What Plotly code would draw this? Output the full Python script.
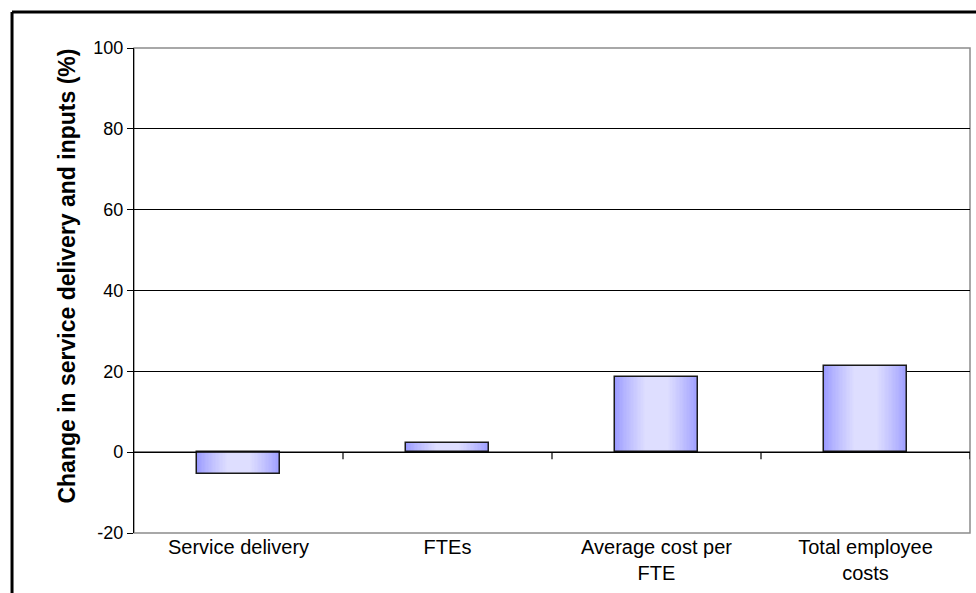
import plotly.graph_objects as go

# Percentage change in service delivery and inputs
categories = ["Service delivery", "FTEs", "Average cost per<br>FTE", "Total employee<br>costs"]
change_pct = [-5.3, 2.2, 18.7, 21.3]

y_tickvals = [-20, 0, 20, 40, 60, 80, 100]
y_ticktext = ["-20", "0", "20", "40", "60", "80", "100"]
y_title = "Change in service delivery and inputs (%)"

FONT = "Liberation Sans, Arial, sans-serif"
BAR_WIDTH = 0.4
EDGE_RGB = (153, 153, 255)
CENTER_RGB = (222, 222, 255)
N_LAYERS = 30

fig = go.Figure()

# Horizontal shading: stacked bars of shrinking width, lighter towards the middle
for k in range(N_LAYERS):
    t = k / (N_LAYERS - 1)
    s = min(1.0, t / 0.75) ** 0.8
    rgb = tuple(round(e + (c - e) * s) for e, c in zip(EDGE_RGB, CENTER_RGB))
    fig.add_trace(go.Bar(
        x=categories, y=change_pct,
        width=BAR_WIDTH * (1 - k / N_LAYERS),
        marker=dict(color="rgb(%d,%d,%d)" % rgb, line=dict(width=0)),
        hoverinfo="skip", showlegend=False,
    ))

# Bar outlines
fig.add_trace(go.Bar(
    x=categories, y=change_pct, width=BAR_WIDTH,
    marker=dict(color="rgba(0,0,0,0)", line=dict(color="#1a1a1a", width=1.5)),
    showlegend=False,
))

shapes = []
# Plot-area border
shapes.append(dict(type="rect", xref="paper", yref="paper", x0=0, x1=1, y0=0, y1=1,
                   line=dict(color="#8c8c8c", width=1.5), layer="below"))
# Category axis along zero with tick marks between categories
shapes.append(dict(type="line", xref="paper", yref="y", x0=0, x1=1, y0=0, y1=0,
                   line=dict(color="black", width=1.2)))
for i in range(1, len(categories) + 1):
    shapes.append(dict(type="line", xref="x", yref="y", x0=i - 0.5, x1=i - 0.5,
                       ysizemode="pixel", yanchor=0, y0=0, y1=-7,
                       line=dict(color="black", width=1.2)))
# Outer frame
shapes.append(dict(type="line", xref="paper", yref="paper", x0=-0.1459, x1=1.01,
                   y0=1.0742, y1=1.0742, line=dict(color="black", width=3)))
shapes.append(dict(type="line", xref="paper", yref="paper", x0=-0.1459, x1=-0.1459,
                   y0=1.0742, y1=-0.13, line=dict(color="black", width=3)))

fig.update_layout(
    width=976, height=593,
    margin=dict(l=134, r=6, t=48, b=60),
    paper_bgcolor="white", plot_bgcolor="white",
    barmode="overlay", bargap=0,
    font=dict(family=FONT, color="black"),
    shapes=shapes,
    annotations=[dict(
        text="<b>%s</b>" % y_title, textangle=-90,
        xref="paper", yref="paper", x=-0.080, y=0.529,
        xanchor="center", yanchor="middle", showarrow=False,
        font=dict(size=23, family=FONT, color="black"),
    )],
    xaxis=dict(
        type="category", showgrid=False, showline=False, zeroline=False,
        ticks="", tickfont=dict(size=20, family=FONT),
        range=[-0.5, len(categories) - 0.5],
    ),
    yaxis=dict(
        range=[-20, 100], tickvals=y_tickvals, ticktext=y_ticktext,
        showgrid=True, gridcolor="black", gridwidth=1,
        zeroline=False, showline=True, linecolor="black", linewidth=1.2,
        ticks="outside", ticklen=6, tickcolor="black", tickwidth=1.2,
        tickfont=dict(size=18, family=FONT),
    ),
)

fig.write_html("out.html")
